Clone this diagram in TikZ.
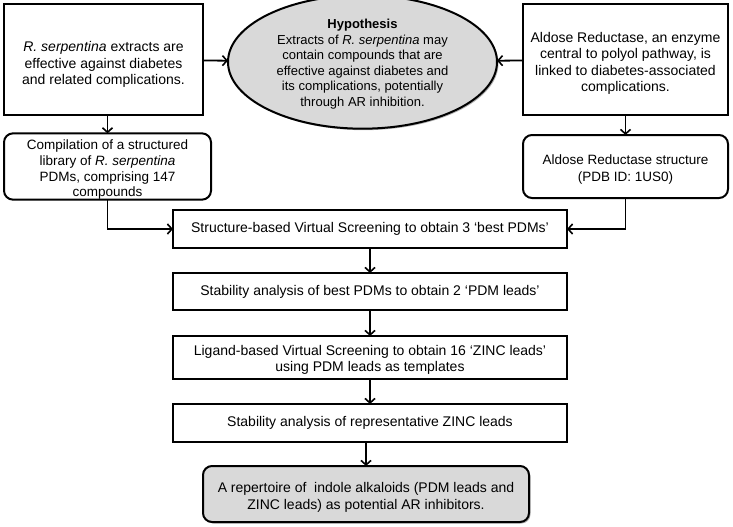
\documentclass[tikz,border=0pt]{standalone}
\usepackage{fontspec}
\setmainfont{Liberation Sans}
\usetikzlibrary{arrows.meta,shapes.geometric,shadows}
\newcommand\tsh[1]{\rule{0pt}{#1pt}}
\begin{document}
\begin{tikzpicture}[x=1pt,y=-1pt,
  every node/.style={inner sep=0pt,outer sep=0pt,align=center,font=\fontsize{14}{16.5}\selectfont},
  sqbox/.style={draw=black,line width=2pt,rectangle},
  rbox/.style={draw=black,line width=2pt,rectangle,rounded corners=9pt},
  hypo/.style={draw=black,line width=2pt,ellipse,fill=gray!30,drop shadow={shadow xshift=1.5pt,shadow yshift=-1.5pt,opacity=0.6}},
  finbox/.style={draw=black,line width=2pt,rectangle,rounded corners=9pt,fill=gray!30,drop shadow={shadow xshift=1.5pt,shadow yshift=-1.5pt,opacity=0.6}},
  arr/.style={draw=black,line width=1.8pt,-{Straight Barb[length=4.5pt,width=10pt,line width=1.6pt]}}]
\useasboundingbox (0,0) rectangle (733,527);
\node[sqbox,minimum width=199pt,minimum height=111pt] (tl) at (103.5,59.5)
  {\tsh{20.4}\textit{R. serpentina} extracts are\\effective against diabetes\\and related complications.};
\node[sqbox,minimum width=205pt,minimum height=111pt] (tr) at (625.5,59.5)
  {\tsh{18.4}Aldose Reductase, an enzyme\\central to polyol pathway, is\\linked to diabetes-associated\\complications.};
\node[hypo,minimum width=269pt,minimum height=120pt,font=\fontsize{13}{15.6}\selectfont] (hyp) at (362.5,62)
  {\tsh{13.6}\textbf{Hypothesis}\\Extracts of \textit{R. serpentina} may\\contain compounds that are\\effective against diabetes and\\its complications, potentially\\through AR inhibition.};
\node[rbox,minimum width=207pt,minimum height=63pt,font=\fontsize{13.5}{15.7}\selectfont] (lr) at (107.5,166.5)
  {\tsh{16.4}Compilation of a structured\\library of \textit{R. serpentina}\\PDMs, comprising 147\\compounds};
\node[rbox,minimum width=205pt,minimum height=63pt,font=\fontsize{13.5}{16.8}\selectfont] (rr) at (625.5,166.5)
  {\tsh{15}Aldose Reductase structure\\(PDB ID: 1US0)};
\node[sqbox,minimum width=394pt,minimum height=38pt] (b1) at (370,229)
  {Structure-based Virtual Screening to obtain 3 ‘best PDMs’};
\node[sqbox,minimum width=394pt,minimum height=37pt] (b2) at (370,291.5)
  {Stability analysis of best PDMs to obtain 2 ‘PDM leads’};
\node[sqbox,minimum width=394pt,minimum height=43pt] (b3) at (370,357.5)
  {\tsh{14.4}Ligand-based Virtual Screening to obtain 16 ‘ZINC leads’\\using PDM leads as templates};
\node[sqbox,minimum width=394pt,minimum height=38pt] (b4) at (370,423)
  {Stability analysis of representative ZINC leads};
\node[finbox,minimum width=326pt,minimum height=56pt,font=\fontsize{14}{17}\selectfont] (fin) at (366,494)
  {\tsh{16.4}A repertoire of~ indole alkaloids (PDM leads and\\ZINC leads) as potential AR inhibitors.};
\draw[arr] (tl) -- (hyp);
\draw[arr] (tr) -- (hyp);
\draw[arr] (tl.south -| lr.north) -- (lr.north);
\draw[arr] (tr.south -| rr.north) -- (rr.north);
\draw[arr] (lr.south) |- (b1.west);
\draw[arr] (rr.south) |- (b1.east);
\draw[arr] (b1) -- (b2);
\draw[arr] (b2) -- (b3);
\draw[arr] (b3) -- (b4);
\draw[arr] (b4.south -| fin.north) -- (fin.north);
\end{tikzpicture}
\end{document}
